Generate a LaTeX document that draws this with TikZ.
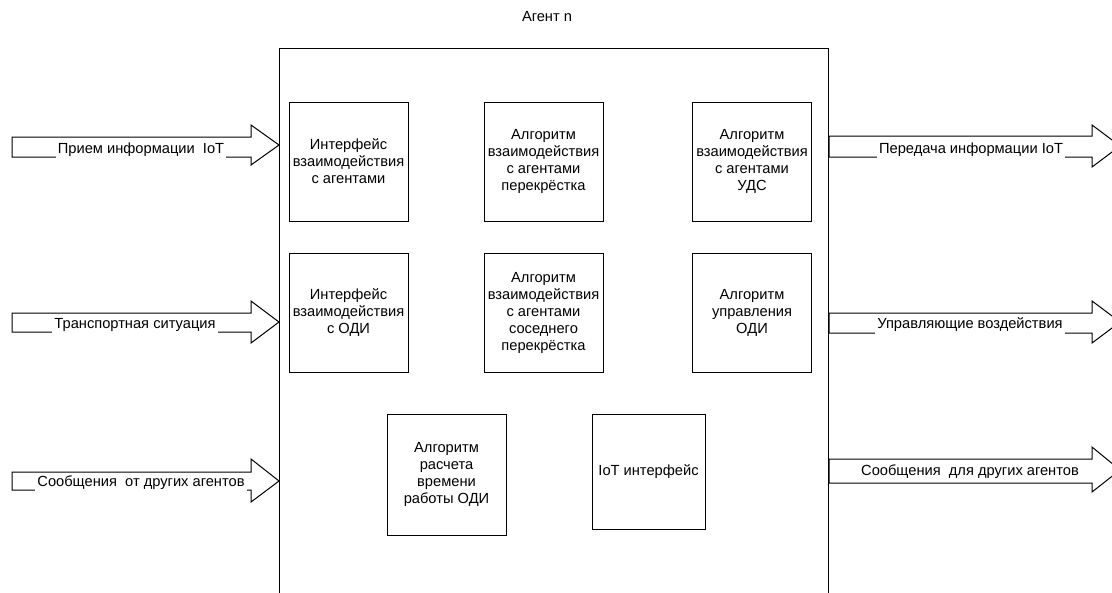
\documentclass[tikz,border=0pt]{standalone}
\usepackage{fontspec}
\setmainfont{Liberation Sans}
\begin{document}
\begin{tikzpicture}[x=0.75pt,y=-0.75pt,
  every node/.style={font=\fontsize{11pt}{12.75pt}\selectfont, text=black},
  blk/.style={draw=black, line width=0.75pt, align=center, inner sep=0pt},
  sq/.style={blk, minimum width=89.25pt, minimum height=89.25pt},
  barrow/.style={draw=black, line width=0.75pt, fill=white, line join=miter},
  lbl/.style={fill=white, inner sep=1.5pt}]
\useasboundingbox (0,0) rectangle (1112,592);
\clip (0,0) rectangle (1112,592);

% title
\node (title) at (547,17) {Агент n};

% big agent box
\draw[line width=0.75pt] (279.5,48.5) rectangle (828.5,620);

% inner boxes
\node[sq] (b1) at (348.5,161.5) {Интерфейс\\взаимодействия\\с агентами};
\node[sq] (b2) at (543.5,161.5) {Алгоритм\\взаимодействия\\с агентами\\перекрёстка};
\node[sq] (b3) at (752,161.5) {Алгоритм\\взаимодействия\\с агентами\\УДС};
\node[sq] (b4) at (348.5,312.5) {Интерфейс\\взаимодействия\\с ОДИ};
\node[sq] (b5) at (543.5,312.5) {Алгоритм\\взаимодействия\\с агентами\\соседнего\\перекрёстка};
\node[sq] (b6) at (752,312.5) {Алгоритм\\управления\\ОДИ};
\node[blk, minimum width=89.25pt, minimum height=90.75pt] (b7) at (446.5,474.5) {Алгоритм\\расчета\\времени\\работы ОДИ};
\node[blk, minimum width=84.75pt, minimum height=86.25pt] (b8) at (648.5,471.5) {IoT интерфейс};

% left input arrows
\draw[barrow] (12,137) -- (251,137) -- (251,125) -- (279,145) -- (251,165) -- (251,157) -- (12,157) -- cycle;
\node[lbl] (l1) at (141,150) {Прием информации\ \ IoT};

\draw[barrow] (12,313) -- (251,313) -- (251,301) -- (279,322) -- (251,343) -- (251,332) -- (12,332) -- cycle;
\node[lbl] (l2) at (135,325) {Транспортная ситуация};

\draw[barrow] (12,472) -- (251,472) -- (251,459) -- (279,481) -- (251,502) -- (251,490) -- (12,490) -- cycle;
\node[lbl] (l3) at (141,483) {Сообщения\ \ от других агентов};

% right output arrows
\draw[barrow] (829,136) -- (1092,136) -- (1092,125) -- (1120,146) -- (1092,167) -- (1092,157) -- (829,157) -- cycle;
\node[lbl] (r1) at (971,150) {Передача информации IoT};

\draw[barrow] (829,313) -- (1092,313) -- (1092,301) -- (1120,322) -- (1092,343) -- (1092,333) -- (829,333) -- cycle;
\node[lbl] (r2) at (970,325) {Управляющие воздействия};

\draw[barrow] (829,459) -- (1092,459) -- (1092,447) -- (1120,470) -- (1092,492) -- (1092,483) -- (829,483) -- cycle;
\node[lbl] (r3) at (970,472) {Сообщения\ \ для других агентов};
\end{tikzpicture}
\end{document}
